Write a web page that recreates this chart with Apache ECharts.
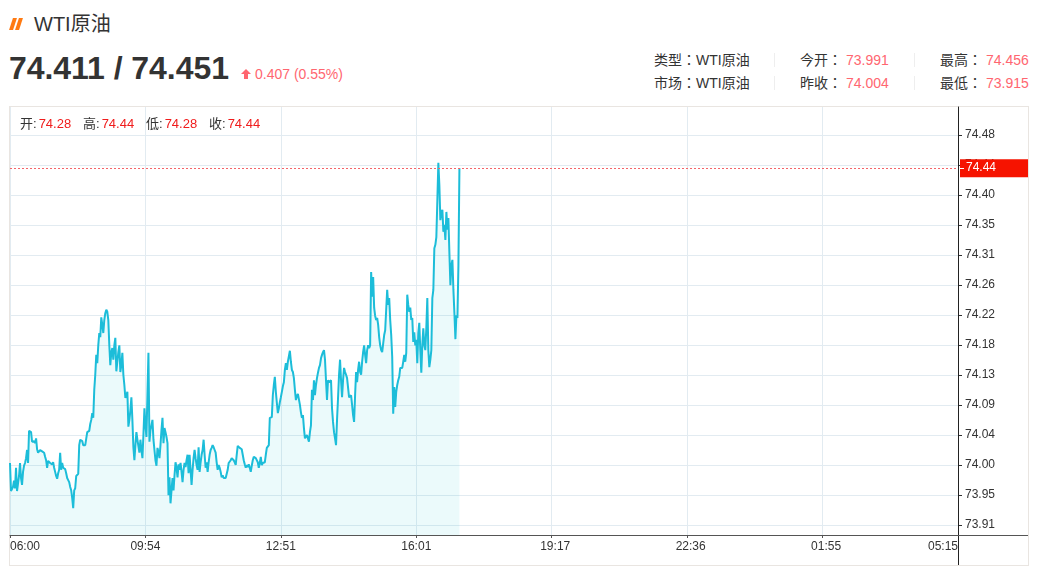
<!DOCTYPE html>
<html>
<head>
<meta charset="utf-8">
<title>WTI原油</title>
<script src="https://cdn.jsdelivr.net/npm/echarts@6/dist/echarts.min.js"></script>
<style>
  html, body { margin: 0; padding: 0; background: #fff; }
  body { width: 1038px; height: 568px; overflow: hidden; position: relative;
    font-family: "Liberation Sans", "Noto Sans CJK SC", sans-serif; color: #333; }
  .abs { position: absolute; white-space: nowrap; }
  .up { color: #ff6670; }
  .red { color: #f01c1c; margin-left: 2px; }
  .bar { position: absolute; top: 18px; width: 4px; height: 12px; background: #ff7a12; transform: skewX(-18deg); }
  .sep { position: absolute; width: 1px; height: 14px; background: #eee; }
  #info { font-family: "Liberation Sans", "Noto Sans CJK TC", sans-serif; }
  #frame { position: absolute; left: 9px; top: 106px; width: 1018px; height: 458px; border: 1px solid #e9e5e1; }
  #chart { position: absolute; left: 0; top: 0; width: 1038px; height: 568px; }
</style>
</head>
<body>
<div class="bar" style="left:11px"></div>
<div class="bar" style="left:17px"></div>
<div class="abs" style="left:34px;top:12px;font-size:20px;line-height:24px">WTI原油</div>
<div class="abs" style="left:9px;top:48px;font-size:32px;line-height:40px;font-weight:bold;letter-spacing:-0.05px">74.411 / 74.451</div>
<div class="abs" style="left:244px;top:73px;width:4px;height:6px;background:#ff6670"></div>
<div class="abs" style="left:241px;top:69px;width:0;height:0;border-left:5px solid transparent;border-right:5px solid transparent;border-bottom:5px solid #ff6670"></div>
<div class="abs up" style="left:255px;top:66px;font-size:14px;line-height:16px">0.407 (0.55%)</div>

<div id="info"></div>
<div class="sep" style="left:774px;top:53px"></div>
<div class="sep" style="left:914px;top:53px"></div>
<div class="sep" style="left:774px;top:76px"></div>
<div class="sep" style="left:914px;top:76px"></div>

<div id="frame"></div>
<div id="chart"></div>
<div id="ohlc"></div>

<script>
// 報價資訊
const infoRows = [
  ['类型：WTI原油', '今开：', '73.991', '最高：', '74.456'],
  ['市场：WTI原油', '昨收：', '74.004', '最低：', '73.915']
]
const ohlcNames = ['开', '高', '低', '收']
const ohlcValues = ['74.28', '74.44', '74.28', '74.44']

const xLabels = ['06:00', '09:54', '12:51', '16:01', '19:17', '22:36', '01:55', '05:15']
const yTickValues = [73.9153, 73.9591, 74.003, 74.0469, 74.0907, 74.1346, 74.1784, 74.2223, 74.2662, 74.31, 74.3539, 74.3977, 74.4416, 74.4855]
const yTickLabels = ['73.91', '73.95', '74.00', '74.04', '74.09', '74.13', '74.18', '74.22', '74.26', '74.31', '74.35', '74.40', '74.44', '74.48']
const lastPrice = 74.437

// 分時價格
const prices = [
  74.006, 73.965, 73.966, 73.971, 73.980, 73.969, 73.999, 73.965, 73.966, 73.987,
  74.006, 73.984, 73.974, 73.993, 74.002, 74.006, 74.013, 74.025, 74.006, 74.053,
  74.053, 74.051, 74.037, 74.037, 74.038, 74.035, 74.042, 74.026, 74.021, 74.022,
  74.025, 74.023, 74.023, 74.022, 74.021, 74.015, 74.010, 73.999, 74.009, 74.007,
  74.006, 74.006, 74.004, 74.007, 73.999, 73.993, 73.987, 73.983, 73.991, 73.996,
  74.021, 73.996, 74.006, 73.999, 74.000, 73.997, 73.991, 73.984, 73.981, 73.978,
  73.971, 73.966, 73.955, 73.940, 73.966, 73.969, 73.987, 73.987, 73.990, 74.032,
  74.040, 74.040, 74.038, 74.032, 74.034, 74.032, 74.031,
  74.051, 74.053, 74.053, 74.063, 74.069, 74.079, 74.072, 74.113, 74.135, 74.164,
  74.152, 74.178, 74.196, 74.190, 74.219, 74.208, 74.196, 74.215, 74.225, 74.230,
  74.227, 74.215, 74.178, 74.149, 74.168, 74.174, 74.157, 74.178, 74.189, 74.140,
  74.154, 74.168, 74.178, 74.139, 74.149, 74.167, 74.135, 74.120, 74.101,
  74.105, 74.110, 74.059, 74.069, 74.083, 74.102, 74.069, 74.029, 74.010, 74.032,
  74.051, 74.040, 74.040, 74.021, 74.040, 74.025, 74.013, 74.047, 74.086, 74.061,
  74.044, 74.105, 74.167, 74.037, 74.054, 74.061, 74.069, 74.040, 74.025, 74.010,
  74.002, 74.028, 74.022, 74.013, 74.032, 74.054, 74.072, 74.035, 74.057, 74.051,
  74.044, 74.035,
  73.959, 73.985, 73.947, 73.966, 73.984, 73.966, 73.988, 74.007, 73.999, 73.985,
  74.004, 73.996, 74.006, 73.993, 73.978, 73.996, 74.006, 74.000, 74.010, 74.018,
  73.991, 74.018, 73.996, 73.974, 73.996, 74.013, 74.025, 74.013, 74.003, 73.996,
  74.029, 73.993, 74.007, 74.018, 74.025, 74.040, 74.018, 73.999, 74.007, 73.993,
  74.007, 74.018, 74.025, 74.028, 74.032, 74.029, 74.025, 74.021, 74.007, 73.996,
  74.003, 73.999, 73.993, 73.985, 73.988, 73.984, 73.984, 73.984, 73.984, 73.996,
  74.006, 74.007, 74.010, 74.013, 74.015, 74.010, 74.007, 74.003, 74.018, 74.031,
  74.029, 74.028,
  74.028, 74.026, 74.018, 74.010, 74.004, 73.999, 74.003, 74.000, 74.004, 73.999,
  73.993, 74.002, 74.010, 74.015, 74.013, 74.013, 74.013, 74.007, 73.999, 74.006,
  74.015, 74.003, 74.006, 74.004, 74.007, 74.018, 74.028, 74.029, 74.032, 74.072,
  74.073, 74.073, 74.105, 74.120, 74.132, 74.110, 74.094, 74.079, 74.086, 74.095,
  74.102, 74.110, 74.118, 74.124, 74.142, 74.152, 74.142, 74.154, 74.162, 74.170,
  74.154, 74.142, 74.139, 74.130, 74.113, 74.098, 74.104, 74.107, 74.108, 74.091,
  74.080, 74.072, 74.076, 74.057, 74.042, 74.044, 74.047, 74.042, 74.037, 74.051,
  74.061, 74.113, 74.098, 74.127, 74.105, 74.120, 74.130, 74.138, 74.145, 74.149,
  74.159, 74.164, 74.168, 74.171, 74.157, 74.127, 74.098, 74.127, 74.124, 74.126,
  74.127, 74.086, 74.066, 74.051, 74.042, 74.032, 74.069, 74.101, 74.135, 74.157,
  74.127, 74.102, 74.127, 74.145, 74.139, 74.135, 74.130, 74.116, 74.102, 74.104,
  74.105, 74.091, 74.076, 74.066, 74.105, 74.139, 74.124, 74.142, 74.154, 74.139,
  74.135, 74.154, 74.168, 74.178, 74.164, 74.152, 74.171, 74.178, 74.174, 74.178,
  74.285, 74.249, 74.278, 74.233, 74.221, 74.215, 74.218, 74.208, 74.190, 74.178,
  74.171, 74.168, 74.167, 74.193, 74.200, 74.230, 74.259, 74.237, 74.247, 74.215,
  74.193, 74.161, 74.078, 74.117, 74.088, 74.110, 74.120, 74.127, 74.132, 74.145,
  74.146, 74.145, 74.154, 74.164, 74.154, 74.167, 74.252, 74.237, 74.227, 74.233,
  74.215, 74.218, 74.183, 74.197, 74.178, 74.186, 74.152, 74.196, 74.211, 74.171,
  74.138, 74.178, 74.203, 74.178, 74.171, 74.203, 74.247, 74.171, 74.146, 74.157,
  74.171, 74.247, 74.259, 74.320, 74.325, 74.336, 74.390, 74.445, 74.412, 74.361,
  74.373, 74.376, 74.344, 74.354, 74.332, 74.373, 74.347, 74.364, 74.313, 74.266,
  74.295, 74.303, 74.259, 74.225, 74.187, 74.222, 74.218, 74.295, 74.437
]

const labelStep = 135  // 每個時間標籤之間的分時格數
const categories = []
for (let i = 0; i <= labelStep * (xLabels.length - 1); i++) {
  categories.push(i % labelStep === 0 ? xLabels[i / labelStep] : '')
}

// 上方文字
const span = (cls, left, top, text) =>
  `<div class="abs ${cls}" style="left:${left}px;top:${top}px;font-size:14px;line-height:16px">${text}</div>`
document.getElementById('info').innerHTML = infoRows.map((row, i) => {
  const top = 52 + i * 23
  return span('', 654, top, row[0]) + span('', 800, top, row[1]) + span('up', 846, top, row[2]) +
    span('', 940, top, row[3]) + span('up', 986, top, row[4])
}).join('')
const ohlcLeft = [20, 83, 146, 209]
document.getElementById('ohlc').innerHTML = ohlcNames.map((name, i) =>
  `<div class="abs" style="left:${ohlcLeft[i]}px;top:116px;font-size:13px;line-height:16px">${name}:<span class="red">${ohlcValues[i]}</span></div>`
).join('')

const chart = echarts.init(document.getElementById('chart'))
const option = {
  animation: false,
  grid: { left: 10, right: 80, top: 107, height: 428 },
  xAxis: {
    type: 'category',
    boundaryGap: false,
    data: categories,
    axisLine: { lineStyle: { color: '#555', width: 1 } },
    axisTick: { interval: labelStep - 1, length: 3, lineStyle: { color: '#555' } },
    splitLine: { show: true, interval: labelStep - 1, lineStyle: { color: '#e2ebf1' } },
    axisLabel: {
      interval: labelStep - 1,
      color: '#333',
      fontSize: 12,
      margin: 6,
      alignMinLabel: 'left',
      alignMaxLabel: 'right',
      fontFamily: 'Liberation Sans',
      // 後段標籤在原圖略偏右
      formatter: (value) => {
        const idx = xLabels.indexOf(value)
        return idx >= 4 && idx < xLabels.length - 1 ? `{late|${value}}` : value
      },
      rich: {
        late: { color: '#333', fontSize: 12, fontFamily: 'Liberation Sans', padding: [0, 0, 0, 7] }
      }
    }
  },
  yAxis: {
    type: 'value',
    position: 'right',
    min: 73.9007,
    max: 74.5264,
    axisLine: { show: true, lineStyle: { color: '#222', width: 1 } },
    axisTick: { show: true, length: 4, lineStyle: { color: '#333' }, customValues: yTickValues },
    splitLine: { show: true, lineStyle: { color: '#e2ebf1' } },
    axisLabel: {
      color: '#333',
      fontSize: 12,
      margin: 7,
      padding: [4, 0, 0, 0],
      fontFamily: 'Liberation Sans',
      customValues: yTickValues,
      formatter: (value) => {
        const idx = yTickValues.findIndex(v => Math.abs(v - value) < 1e-6)
        return idx >= 0 ? yTickLabels[idx] : ''
      }
    }
  },
  series: [
    {
      type: 'line',
      data: prices,
      showSymbol: false,
      sampling: false,
      lineStyle: { color: '#1cbdd9', width: 2 },
      itemStyle: { color: '#1cbdd9' },
      areaStyle: { color: 'rgba(30, 195, 210, 0.09)', opacity: 1 },
      markLine: {
        silent: true,
        symbol: 'none',
        animation: false,
        precision: 4,
        lineStyle: { color: '#f4646a', type: [2, 2], width: 1 },
        label: {
          position: 'end',
          distance: 2,
          formatter: (p) => p.value.toFixed(2),
          color: '#fff',
          fontSize: 12,
          fontFamily: 'Liberation Sans',
          backgroundColor: '#f61300',
          width: 62,
          height: 18,
          lineHeight: 18,
          padding: [0, 0, 0, 6],
          align: 'left'
        },
        data: [{ yAxis: lastPrice }]
      }
    }
  ],
  // 軸線延伸到外框
  graphic: [
    { type: 'line', z: 50, shape: { x1: 958.5, y1: 107, x2: 958.5, y2: 565 }, style: { stroke: '#222', lineWidth: 1 } },
    { type: 'line', z: 50, shape: { x1: 10, y1: 535.5, x2: 1028, y2: 535.5 }, style: { stroke: '#555', lineWidth: 1 } },
    { type: 'line', z: 50, shape: { x1: 960, y1: 168.5, x2: 964, y2: 168.5 }, style: { stroke: '#fff', lineWidth: 1 } }
  ]
}
chart.setOption(option)

window.addEventListener('resize', () => {
  chart.resize()
})
</script>
</body>
</html>
